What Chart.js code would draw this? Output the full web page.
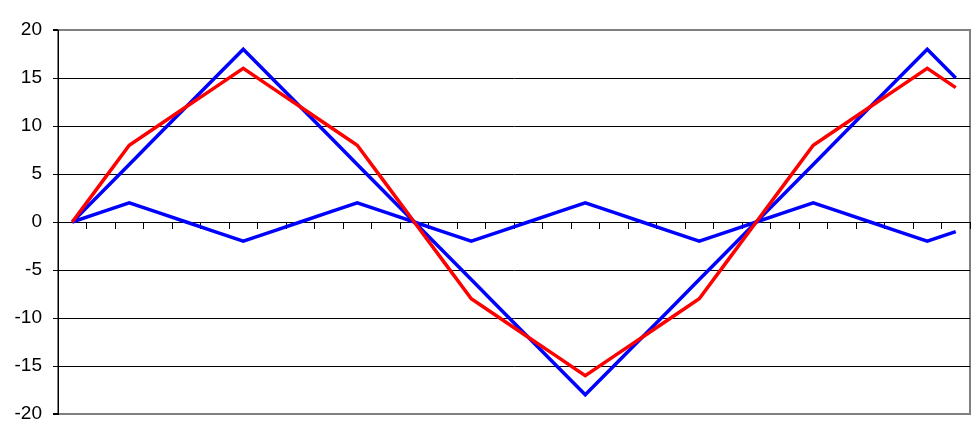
<!DOCTYPE html>
<html>
<head>
<meta charset="utf-8">
<script src="https://cdn.jsdelivr.net/npm/chart.js@4"></script>
<style>
  html, body { margin: 0; padding: 0; background: #fff; }
  #wrap { width: 980px; height: 443px; }
</style>
</head>
<body>
<div id="wrap"><canvas id="chart"></canvas></div>
<script>
// Categories (32 unlabeled points)
const categories = ['1','2','3','4','5','6','7','8','9','10','11','12','13','14','15','16',
                    '17','18','19','20','21','22','23','24','25','26','27','28','29','30','31','32'];

// Series
const bigWave   = [0, 3, 6, 9, 12, 15, 18, 15, 12, 9, 6, 3, 0, -3, -6, -9,
                   -12, -15, -18, -15, -12, -9, -6, -3, 0, 3, 6, 9, 12, 15, 18, 15];
const smallWave = [0, 1, 2, 1, 0, -1, -2, -1, 0, 1, 2, 1, 0, -1, -2, -1,
                   0, 1, 2, 1, 0, -1, -2, -1, 0, 1, 2, 1, 0, -1, -2, -1];
const sumWave   = [0, 4, 8, 10, 12, 14, 16, 14, 12, 10, 8, 4, 0, -4, -8, -10,
                   -12, -14, -16, -14, -12, -10, -8, -4, 0, 4, 8, 10, 12, 14, 16, 14];

// Value axis
const yMin = -20;
const yMax = 20;
const yStep = 5;

const ctx = document.getElementById('chart');

// gray frame around the plot area (left side is covered by the black axis)
const plotFrame = {
    id: 'plotFrame',
    beforeDraw(chart) {
        const { ctx, chartArea: a } = chart;
        ctx.save();
        ctx.strokeStyle = '#808080';
        ctx.lineWidth = 2;
        ctx.strokeRect(a.left, a.top, a.right - a.left, a.bottom - a.top);
        ctx.restore();
    }
};

new Chart(ctx, {
    type: 'line',
    data: {
        labels: categories,
        datasets: [
            { label: 'Sum', data: sumWave, borderColor: '#ff0000', borderWidth: 3.5 },
            { label: 'Wave 1', data: bigWave, borderColor: '#0000ff', borderWidth: 3.5 },
            { label: 'Wave 2', data: smallWave, borderColor: '#0000ff', borderWidth: 3.5 }
        ]
    },
    options: {
        responsive: true,
        maintainAspectRatio: false,
        animation: false,
        layout: { padding: { top: 30, right: 10, bottom: 29, left: 0 } },
        elements: {
            point: { radius: 0 },
            line: { tension: 0, fill: false }
        },
        plugins: {
            legend: { display: false },
            tooltip: { enabled: false }
        },
        scales: {
            x: {
                type: 'category',
                offset: true,
                position: { y: 0 },
                ticks: { display: false },
                grid: {
                    offset: true,
                    drawOnChartArea: false,
                    drawTicks: true,
                    tickLength: 6,
                    tickColor: '#000'
                },
                border: { color: '#000', width: 1 }
            },
            y: {
                min: yMin,
                max: yMax,
                afterFit(scale) { scale.width = 58; },
                ticks: {
                    stepSize: yStep,
                    padding: 11,
                    color: '#000',
                    font: { family: 'Liberation Sans, Arial, sans-serif', size: 19 }
                },
                grid: {
                    color: c => (c.tick && Math.abs(c.tick.value) === 20) ? '#808080' : '#000',
                    lineWidth: c => (c.tick && Math.abs(c.tick.value) === 20) ? 2 : 1,
                    tickColor: '#000',
                    tickLength: 5
                },
                border: { color: '#000', width: 1 }
            }
        }
    },
    plugins: [plotFrame]
});
</script>
</body>
</html>
